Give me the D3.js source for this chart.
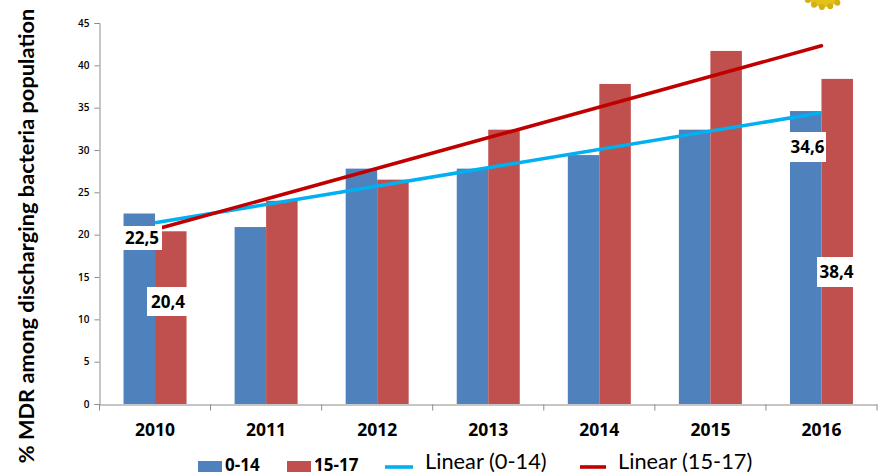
<!DOCTYPE html>
<meta charset="utf-8">
<style>
  body { margin: 0; background: #fff; }
  text { font-family: "Open Sans", sans-serif; fill: #000; }
</style>
<script src="https://d3js.org/d3.v7.min.js"></script>
<div id="chart"></div>
<script>
// values
var years = ["2010", "2011", "2012", "2013", "2014", "2015", "2016"];
var kids = [22.5, 20.9, 27.8, 27.8, 29.4, 32.4, 34.6];
var teens = [20.4, 24, 26.5, 32.4, 37.8, 41.7, 38.4];
var trendYears = ["2010", "2016"];
var trendKids = [21.4, 34.4];
var trendTeens = [20.6, 42.3];
var yTicks = [0, 5, 10, 15, 20, 25, 30, 35, 40, 45];

var blue = "#4f81bd", red = "#c0504d", lightBlue = "#00b0f0", darkRed = "#c00000";

var svg = d3.select("#chart").append("svg")
  .attr("width", 881)
  .attr("height", 476)
  .style("display", "block");

var x = d3.scaleBand().domain(years).range([99.5, 877]);
var y = d3.scaleLinear().domain([0, 45]).range([404, 23]);
var barW = 31.5;

// bars
svg.selectAll("rect.kids")
  .data(years)
  .enter().append("rect")
    .attr("class", "kids")
    .attr("x", function(d) { return x(d) + x.bandwidth() / 2 - barW; })
    .attr("y", function(d, i) { return y(kids[i]); })
    .attr("width", barW)
    .attr("height", function(d, i) { return y(0) - y(kids[i]); })
    .attr("fill", blue);

svg.selectAll("rect.teens")
  .data(years)
  .enter().append("rect")
    .attr("class", "teens")
    .attr("x", function(d) { return x(d) + x.bandwidth() / 2; })
    .attr("y", function(d, i) { return y(teens[i]); })
    .attr("width", barW)
    .attr("height", function(d, i) { return y(0) - y(teens[i]); })
    .attr("fill", red);

// axes
var yAxis = svg.append("g")
  .attr("transform", "translate(99.5,0)")
  .call(d3.axisLeft(y).tickValues(yTicks).tickSize(5).tickPadding(5));
yAxis.selectAll("text").style("font-size", "10px").style("font-weight", 600).attr("fill", "#222");
yAxis.selectAll("line,path").attr("stroke", "#8c8c8c");

var xAxis = svg.append("g")
  .attr("transform", "translate(0,404.5)")
  .call(d3.axisBottom(x).tickSize(0).tickPadding(19));
xAxis.selectAll("text").style("font-size", "17.5px").style("font-weight", 700);
xAxis.select("path").attr("stroke", "#8c8c8c");
xAxis.selectAll(".edge")
  .data(x.domain().concat("end"))
  .enter().append("line")
    .attr("class", "edge")
    .attr("x1", function(d) { return d == "end" ? x.range()[1] : x(d); })
    .attr("x2", function(d) { return d == "end" ? x.range()[1] : x(d); })
    .attr("y1", 0)
    .attr("y2", 6)
    .attr("stroke", "#8c8c8c");

// trend lines
var trendLine = d3.line()
  .x(function(d) { return x(d[0]) + x.bandwidth() / 2; })
  .y(function(d) { return y(d[1]); });

svg.append("path")
  .attr("d", trendLine(d3.zip(trendYears, trendKids)))
  .attr("fill", "none")
  .attr("stroke", lightBlue)
  .attr("stroke-width", 3.6);
svg.append("path")
  .attr("d", trendLine(d3.zip(trendYears, trendTeens)))
  .attr("fill", "none")
  .attr("stroke", darkRed)
  .attr("stroke-width", 3.6)
  .attr("stroke-linecap", "round");

// white value labels
var labelText = ["22,5", "20,4", "34,6", "38,4"];
var labelBox = [[122, 226, 40, 24], [147, 287, 42, 29], [789, 132, 37, 30], [817, 257, 39, 30]];
labelText.forEach(function(t, i) {
  var b = labelBox[i];
  svg.append("rect")
    .attr("x", b[0]).attr("y", b[1])
    .attr("width", b[2]).attr("height", b[3])
    .attr("fill", "#fff");
  svg.append("text")
    .attr("x", b[0] + b[2] / 2)
    .attr("y", b[1] + b[3] / 2 + 6)
    .attr("text-anchor", "middle")
    .style("font-size", "17px")
    .style("font-weight", 700)
    .text(t);
});

// y title
svg.append("text")
  .attr("transform", "translate(34,236)rotate(-90)")
  .attr("text-anchor", "middle")
  .style("font-family", "Lato, sans-serif")
  .style("font-size", "21.8px")
  .style("font-weight", 700)
  .text("% MDR  among discharging bacteria population");

// legend
svg.append("rect").attr("x", 198).attr("y", 461).attr("width", 24).attr("height", 11).attr("fill", blue);
svg.append("text").attr("x", 225).attr("y", 471).style("font-size", "17px").style("font-weight", 700).text("0-14");
svg.append("rect").attr("x", 287).attr("y", 461).attr("width", 24).attr("height", 11).attr("fill", red);
svg.append("text").attr("x", 314).attr("y", 471).style("font-size", "17px").style("font-weight", 700).text("15-17");
svg.append("line").attr("x1", 385).attr("x2", 413).attr("y1", 467).attr("y2", 467).attr("stroke", lightBlue).attr("stroke-width", 3.6);
svg.append("text").attr("x", 425).attr("y", 469).style("font-family", "Lato, sans-serif").style("font-size", "21.8px").attr("fill", "#222").text("Linear (0-14)");
svg.append("line").attr("x1", 580).attr("x2", 606).attr("y1", 467).attr("y2", 467).attr("stroke", darkRed).attr("stroke-width", 3.6);
svg.append("text").attr("x", 618).attr("y", 469).style("font-family", "Lato, sans-serif").style("font-size", "21.8px").attr("fill", "#222").text("Linear (15-17)");

// bit of the logo at the top right, cut off by the page edge
var logo = svg.append("g").attr("transform", "translate(824,-10)");
logo.append("ellipse").attr("rx", 19).attr("ry", 17).attr("fill", "#e3c21a");
d3.range(0, 360, 24).forEach(function(a) {
  logo.append("circle")
    .attr("r", 3)
    .attr("cx", 20 * Math.cos(a * Math.PI / 180))
    .attr("cy", 17 * Math.sin(a * Math.PI / 180))
    .attr("fill", "#d4b013");
});
</script>
